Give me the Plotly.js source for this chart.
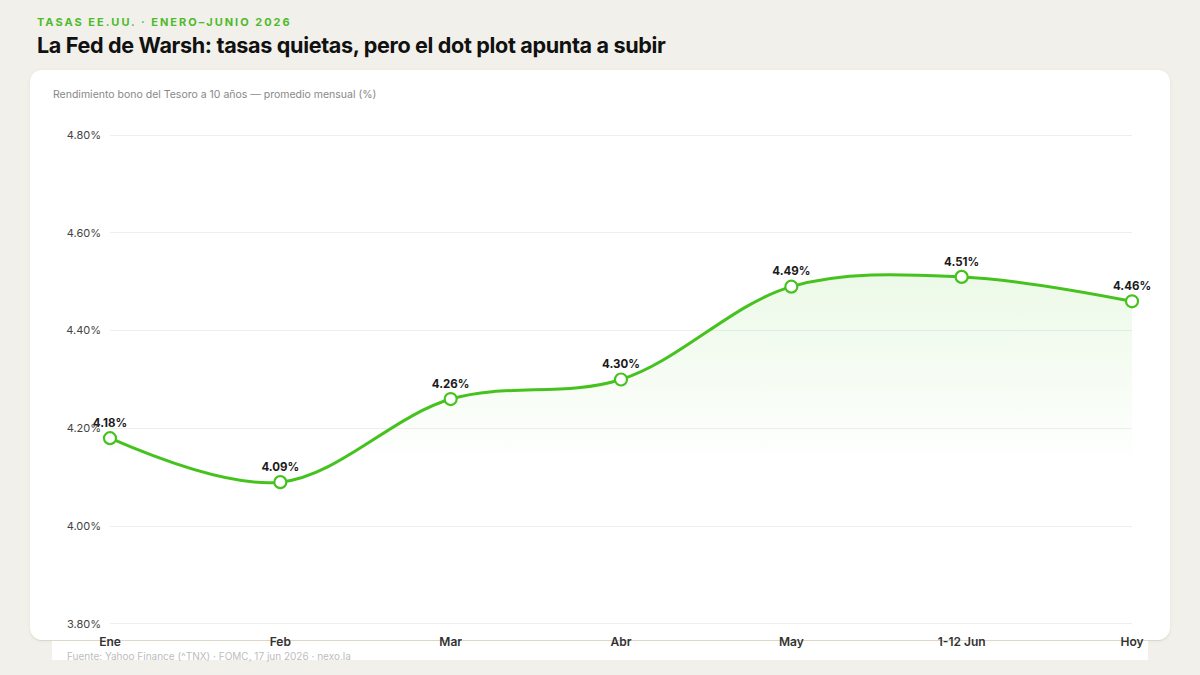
<!DOCTYPE html>
<html>
<head>
<meta charset="utf-8">
<script src="https://cdn.plot.ly/plotly-3.0.1.min.js"></script>
<style>
  html, body { margin:0; padding:0; width:1200px; height:675px; background:#f1f0ea; overflow:hidden; font-family: Inter, Roboto, "Noto Sans", sans-serif; }
  #kicker { position:absolute; left:37px; top:15px; font-size:11px; font-weight:700; color:#4fba2c; letter-spacing:2px; }
  #title { position:absolute; left:37px; top:32px; font-size:21.6px; font-weight:700; color:#111; letter-spacing:-0.35px; }
  #card { position:absolute; left:30px; top:70px; width:1140px; height:570px; background:#fff; border-radius:12px; box-shadow:0 1px 0 #ddd8c6, 0 1px 4px rgba(0,0,0,0.05); }
  #strip { position:absolute; left:52px; top:641px; width:1096px; height:19px; background:#fff; }
  #sub { position:absolute; left:53px; top:88px; font-size:10.5px; color:#888; }
  #foot { position:absolute; left:67px; top:650px; font-size:10px; color:#bdbdbd; }
  #chart { position:absolute; left:0; top:0; width:1200px; height:675px; }
</style>
</head>
<body>
<div id="kicker">TASAS EE.UU. · ENERO–JUNIO 2026</div>
<div id="title">La Fed de Warsh: tasas quietas, pero el dot plot apunta a subir</div>
<div id="card"></div>
<div id="strip"></div>
<div id="sub">Rendimiento bono del Tesoro a 10 años — promedio mensual (%)</div>
<div id="foot">Fuente: Yahoo Finance (^TNX) · FOMC, 17 jun 2026 · nexo.la</div>
<div id="chart"></div>
<script>
const months = ['Ene', 'Feb', 'Mar', 'Abr', 'May', '1-12 Jun', 'Hoy'];
const yields = [4.18, 4.09, 4.26, 4.30, 4.49, 4.51, 4.46];
const labels = ['4.18%', '4.09%', '4.26%', '4.30%', '4.49%', '4.51%', '4.46%'];
const yTicks = [3.8, 4.0, 4.2, 4.4, 4.6, 4.8];
const yTickLabels = ['3.80%', '4.00%', '4.20%', '4.40%', '4.60%', '4.80%'];

const green = '#46c21f';

const fillTrace = {
  x: months, y: yields, type: 'scatter', mode: 'lines',
  line: { shape: 'spline', smoothing: 1, width: 0, color: 'rgba(0,0,0,0)' },
  fill: 'tozeroy',
  fillgradient: {
    type: 'vertical', start: 4.12, stop: 4.52,
    colorscale: [[0, 'rgba(80,200,40,0)'], [1, 'rgba(80,200,40,0.11)']]
  },
  hoverinfo: 'skip', showlegend: false
};

const lineTrace = {
  x: months, y: yields, type: 'scatter', mode: 'lines+markers+text',
  line: { shape: 'spline', smoothing: 1, width: 3, color: green },
  marker: { size: 12, color: '#ffffff', line: { color: green, width: 2.2 } },
  text: labels, textposition: 'top center',
  textfont: { family: 'Inter, Roboto, sans-serif', size: 11.5, color: '#1a1a1a', weight: 700 },
  cliponaxis: false, showlegend: false
};

const layout = {
  width: 1200, height: 675,
  margin: { l: 110, r: 68, t: 120, b: 35 },
  paper_bgcolor: 'rgba(0,0,0,0)', plot_bgcolor: 'rgba(0,0,0,0)',
  font: { family: 'Inter, Roboto, sans-serif' },
  showlegend: false,
  xaxis: {
    type: 'category', range: [0, 6],
    showgrid: false, zeroline: false, showline: false, ticks: '',
    tickfont: { size: 12, color: '#333', weight: 600 },
    ticklabelstandoff: -7
  },
  yaxis: {
    range: [3.767, 4.831],
    tickvals: yTicks, ticktext: yTickLabels,
    showgrid: true, gridcolor: '#eeeeee', gridwidth: 1,
    zeroline: false, showline: false, ticks: '',
    tickfont: { size: 11, color: '#444' },
    ticklabelstandoff: 8
  }
};

Plotly.newPlot('chart', [fillTrace, lineTrace], layout, { displayModeBar: false, staticPlot: true });
</script>
</body>
</html>
